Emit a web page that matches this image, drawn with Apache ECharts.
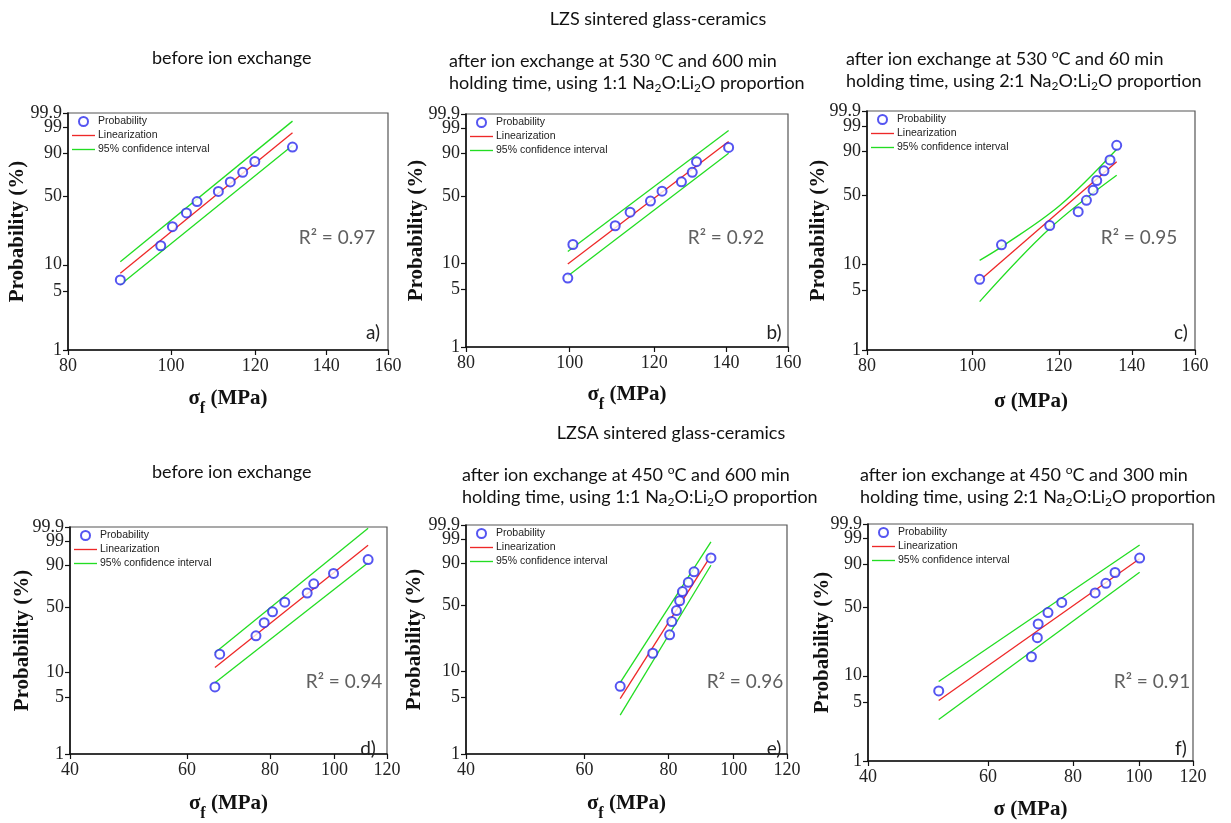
<!DOCTYPE html>
<html>
<head>
<meta charset="utf-8">
<title>Weibull plots - LZS / LZSA glass-ceramics</title>
<script src="https://cdn.jsdelivr.net/npm/echarts@6/dist/echarts.min.js"></script>
<style>
html, body { margin: 0; padding: 0; background: #fff; }
#chart { width: 1231px; height: 823px; }
</style>
</head>
<body>
<div id="chart"></div>
<script>
// failure probability (%) of the 10 specimens, same ranks in every panel
var probs = [6.7, 16.3, 26.0, 35.6, 45.2, 54.8, 64.4, 74.0, 83.7, 93.3];

// fracture strength (MPa), one array per panel
var sigmaA = [89.6, 97.8, 100.3, 103.4, 105.8, 110.8, 113.7, 116.8, 119.9, 130.1];
var sigmaB = [99.6, 100.7, 110.3, 113.9, 119.0, 122.0, 127.2, 130.2, 131.4, 140.8];
var sigmaC = [101.5, 106.3, 117.7, 125.0, 127.2, 129.0, 130.0, 132.0, 133.7, 135.6];
var sigmaD = [66.1, 67.2, 76.2, 78.4, 80.7, 84.2, 91.0, 93.1, 99.7, 112.4];
var sigmaE = [67.8, 75.8, 80.3, 80.9, 82.2, 83.1, 83.9, 85.6, 87.3, 92.5];
var sigmaF = [50.8, 69.5, 70.9, 71.1, 73.5, 77.0, 86.2, 89.4, 92.2, 100.2];

// linearization and 95% confidence bounds, [MPa, %]
var linA = [[89.6, 8.0], [130.1, 98.2]];
var hiA = [[89.6, 10.8], [130.1, 99.6]];
var loA = [[89.6, 5.9], [130.1, 94.0]];

var linB = [[99.6, 9.8], [140.8, 95.9]];
var hiB = [[99.6, 13.6], [140.8, 98.7]];
var loB = [[99.6, 7.1], [140.8, 89.9]];

var linC = [[101.5, 6.5], [135.6, 82.1]];
var hiC = [[101.5, 11.0], [106.3, 15.5], [120.3, 40.9], [135.6, 91.2]];
var loC = [[101.5, 3.7], [117.7, 24.3], [135.6, 69.7]];

var linD = [[66.1, 11.4], [112.4, 98.3]];
var hiD = [[66.1, 16.9], [112.4, 99.87]];
var loD = [[66.1, 7.5], [112.4, 91.6]];

var linE = [[67.8, 4.75], [92.5, 94.4]];
var hiE = [[67.8, 7.4], [92.5, 98.6]];
var loE = [[67.8, 3.0], [92.5, 88.8]];

var linF = [[50.8, 5.2], [100.2, 92.9]];
var hiF = [[50.8, 8.6], [100.2, 97.9]];
var loF = [[50.8, 3.1], [100.2, 83.9]];

var r2 = ['0.97', '0.92', '0.95', '0.94', '0.96', '0.91'];
var panelTags = ['a)', 'b)', 'c)', 'd)', 'e)', 'f)'];

// tick labels
var yTicks = [1, 5, 10, 50, 90, 99];
var yTop = 99.9;
var xTicksTop = [80, 100, 120, 140, 160];
var xTicksBottom = [40, 60, 80, 100, 120];

// Weibull paper: x = ln(sigma), y = ln(-ln(1-P))
function weib(p) {
	return Math.log(-Math.log(1 - p / 100));
}
function lnx(s) {
	return Math.log(s);
}
function toPts(arr) {
	return arr.map(function (d) { return [lnx(d[0]), weib(d[1])]; });
}
function tickFormatter(ticks, fn) {
	return function (v) {
		for (var i = 0; i < ticks.length; i++) {
			if (Math.abs(fn(ticks[i]) - v) < 1e-6) return String(ticks[i]);
		}
		return '';
	};
}

var panels = [
	{ grid: { left: 68, top: 113, width: 320, height: 237 }, xt: xTicksTop, sig: sigmaA, lin: linA, hi: hiA, lo: loA, sub: true, yGap: 40, xGap: 37, r2: [332, 234], tag: [368, 329] },
	{ grid: { left: 466, top: 114, width: 322, height: 233 }, xt: xTicksTop, sig: sigmaB, lin: linB, hi: hiB, lo: loB, sub: true, yGap: 39, xGap: 36, r2: [721, 234], tag: [769, 329] },
	{ grid: { left: 867, top: 111, width: 328, height: 239 }, xt: xTicksTop, sig: sigmaC, lin: linC, hi: hiC, lo: loC, sub: false, yGap: 38, xGap: 40, r2: [1134, 234], tag: [1176, 329] },
	{ grid: { left: 70, top: 527, width: 317, height: 233 }, xt: xTicksBottom, sig: sigmaD, lin: linD, hi: hiD, lo: loD, sub: true, yGap: 37, xGap: 38, r2: [339, 678], tag: [363, 745] },
	{ grid: { left: 466, top: 525, width: 321, height: 238 }, xt: xTicksBottom, sig: sigmaE, lin: linE, hi: hiE, lo: loE, sub: true, yGap: 41, xGap: 38, r2: [740, 678], tag: [769, 745] },
	{ grid: { left: 868, top: 524, width: 325, height: 237 }, xt: xTicksBottom, sig: sigmaF, lin: linF, hi: hiF, lo: loF, sub: false, yGap: 35, xGap: 37, r2: [1147, 678], tag: [1176, 745] }
];

var SERIF = '"Liberation Serif", "Times New Roman", serif';
var SANS = '"Liberation Sans", Arial, sans-serif';
var CAL = 'Lato, "Open Sans", sans-serif';
var BLUE = '#2a2aee';
var RED = '#ee2828';
var GREEN = '#22dd22';
var LINE_ICON = 'path://M0,0H24V1.4H0Z';

var grids = [], xAxes = [], yAxes = [], topAxes = [], series = [], legends = [], titles = [];

var yLabelStyle = { margin: 6, fontFamily: SERIF, fontSize: 18, color: '#222' };

panels.forEach(function (p, i) {
	var g = p.grid;
	grids.push({ left: g.left, top: g.top, width: g.width, height: g.height, show: true, borderColor: '#555', borderWidth: 1.2, backgroundColor: 'transparent' });

	var xVals = p.xt.map(lnx);
	xAxes.push({
		type: 'value', gridIndex: i,
		min: xVals[0], max: xVals[xVals.length - 1],
		name: p.sub ? '{b|σ}{s|f}{b| (MPa)}' : '{b|σ (MPa)}',
		nameLocation: 'middle', nameGap: p.xGap,
		nameTextStyle: {
			rich: {
				b: { fontFamily: SERIF, fontWeight: 'bold', fontSize: 21, color: '#111', lineHeight: 24 },
				s: { fontFamily: SERIF, fontWeight: 'bold', fontSize: 16, color: '#111', verticalAlign: 'bottom', lineHeight: 14, padding: [0, 0, -6, 0] }
			}
		},
		axisLine: { onZero: false, lineStyle: { color: '#111', width: 1.6 } },
		axisTick: { inside: false, length: 5, customValues: xVals, lineStyle: { color: '#111', width: 1.2 } },
		axisLabel: { customValues: xVals, showMinLabel: true, showMaxLabel: true, margin: 7, fontFamily: SERIF, fontSize: 18, color: '#222', formatter: tickFormatter(p.xt, lnx) },
		splitLine: { show: false }
	});

	var yVals = yTicks.map(weib);
	yAxes.push({
		type: 'value', gridIndex: i,
		min: weib(1), max: weib(yTop),
		name: 'Probability (%)',
		nameLocation: 'middle', nameGap: p.yGap, nameRotate: 90,
		nameTextStyle: { fontFamily: SERIF, fontWeight: 'bold', fontSize: 21, color: '#111' },
		axisLine: { onZero: false, lineStyle: { color: '#111', width: 1.6 } },
		axisTick: { inside: false, length: 5, customValues: yVals.concat([weib(yTop)]), lineStyle: { color: '#111', width: 1.2 } },
		axisLabel: Object.assign({ customValues: yVals, showMinLabel: true, showMaxLabel: true, formatter: tickFormatter(yTicks, weib) }, yLabelStyle),
		splitLine: { show: false }
	});
	// companion axis carrying only the 99.9 label (it would otherwise collide with 99)
	topAxes.push({
		type: 'value', gridIndex: i, position: 'left',
		min: weib(1), max: weib(yTop),
		axisLine: { show: false }, axisTick: { show: false }, splitLine: { show: false },
		axisLabel: Object.assign({ customValues: [weib(yTop)], showMaxLabel: true, formatter: function () { return String(yTop); } }, yLabelStyle)
	});

	series.push({
		type: 'scatter', name: 'Probability', xAxisIndex: i, yAxisIndex: i,
		symbol: 'emptyCircle', symbolSize: 9,
		itemStyle: { color: BLUE, borderColor: BLUE, borderWidth: 1.4 },
		data: p.sig.map(function (s, k) { return [lnx(s), weib(probs[k])]; }),
		z: 5
	});
	series.push({
		type: 'line', name: 'Linearization', xAxisIndex: i, yAxisIndex: i,
		symbol: 'none', lineStyle: { color: RED, width: 1.3 }, itemStyle: { color: RED },
		data: toPts(p.lin), z: 3
	});
	[p.hi, p.lo].forEach(function (band) {
		series.push({
			type: 'line', name: '95% confidence interval', xAxisIndex: i, yAxisIndex: i,
			symbol: 'none', smooth: 0.35, lineStyle: { color: GREEN, width: 1.3 }, itemStyle: { color: GREEN },
			data: toPts(band), z: 2
		});
	});

	legends.push({
		data: [
			{ name: 'Probability' },
			{ name: 'Linearization', icon: LINE_ICON },
			{ name: '95% confidence interval', icon: LINE_ICON }
		],
		orient: 'vertical', left: g.left + 4, top: g.top + 3,
		itemWidth: 23, itemHeight: 9, itemGap: 3, padding: 0,
		selectedMode: false,
		textStyle: { fontFamily: SANS, fontSize: 10.5, color: '#222', padding: [0, 0, 0, -2] }
	});

	titles.push({
		text: 'R² = ' + r2[i], left: p.r2[0], top: p.r2[1] - 11, textAlign: 'center',
		textStyle: { fontFamily: CAL, fontSize: 19, fontWeight: 'normal', color: '#606060' }
	});
	titles.push({
		text: panelTags[i], left: p.tag[0], top: p.tag[1] - 11, textAlign: 'center',
		textStyle: { fontFamily: CAL, fontSize: 19, fontWeight: 'normal', color: '#222' }
	});
});

// headings
var hRich = {
	t: { fontFamily: CAL, fontSize: 18, fontWeight: 'normal', color: '#111', lineHeight: 22 },
	sup: { fontFamily: CAL, fontSize: 12, fontWeight: 'normal', color: '#111', verticalAlign: 'top', lineHeight: 11 },
	sub: { fontFamily: CAL, fontSize: 12, fontWeight: 'normal', color: '#111', verticalAlign: 'bottom', lineHeight: 9 }
};
function heading(txt, left, top, align) {
	return { text: txt, left: left, top: top, textAlign: align || 'left', padding: 0, textStyle: { fontWeight: 'normal', rich: hRich } };
}
titles.push(heading('{t|LZS sintered glass-ceramics}', 658, 8, 'center'));
titles.push(heading('{t|LZSA sintered glass-ceramics}', 671, 422, 'center'));
titles.push(heading('{t|before ion exchange}', 152, 47));
titles.push(heading('{t|before ion exchange}', 152, 461));
titles.push(heading('{t|after ion exchange at 530 }{sup|o}{t|C and 600 min}\n{t|holding time, using 1:1 Na}{sub|2}{t|O:Li}{sub|2}{t|O proportion}', 449, 50));
titles.push(heading('{t|after ion exchange at 530 }{sup|o}{t|C and 60 min}\n{t|holding time, using 2:1 Na}{sub|2}{t|O:Li}{sub|2}{t|O proportion}', 846, 48));
titles.push(heading('{t|after ion exchange at 450 }{sup|o}{t|C and 600 min}\n{t|holding time, using 1:1 Na}{sub|2}{t|O:Li}{sub|2}{t|O proportion}', 462, 464));
titles.push(heading('{t|after ion exchange at 450 }{sup|o}{t|C and 300 min}\n{t|holding time, using 2:1 Na}{sub|2}{t|O:Li}{sub|2}{t|O proportion}', 860, 464));

var myChart = echarts.init(document.getElementById('chart'), null, { renderer: 'canvas' });
myChart.setOption({
	backgroundColor: '#fff',
	animation: false,
	title: titles,
	legend: legends,
	grid: grids,
	xAxis: xAxes,
	yAxis: yAxes.concat(topAxes),
	series: series
});
</script>
</body>
</html>
